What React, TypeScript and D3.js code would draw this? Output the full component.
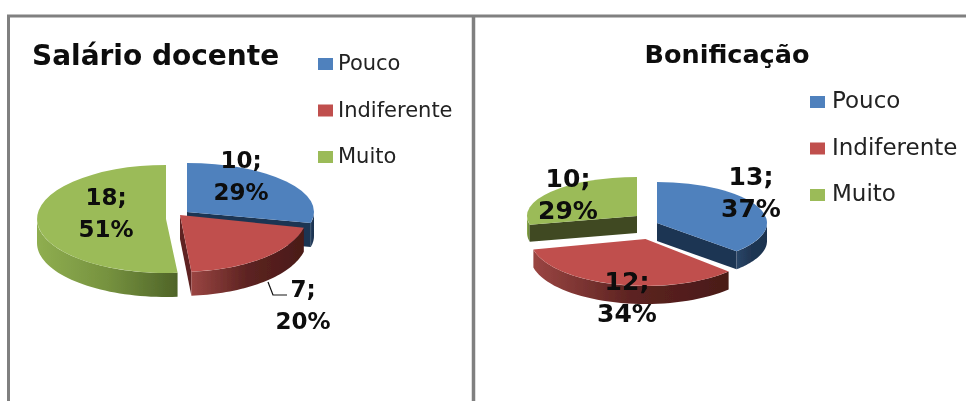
import React from "react";
import * as d3 from "d3";

const categories = ["Pouco", "Indiferente", "Muito"];
const salarioValues = [10, 7, 18];
const salarioPercents = [29, 20, 51];
const bonificacaoValues = [13, 12, 10];
const bonificacaoPercents = [37, 34, 29];

const topColors = ["#4f81bd", "#c0504d", "#9bbb59"];
const wallStops = [
  ["#2a4668", "#1f3552", "#1d3350"],
  ["#9a4542", "#5c2321", "#4a1a18"],
  ["#8fae50", "#76923f", "#4f6428"],
];
const faceColors = ["#1f3552", "#5e2220", "#3f4a20"];

type Geo = { cx: number; cy: number; rx: number; ry: number };
const salarioGeo: Geo[] = [
  { cx: 187, cy: 212, rx: 127, ry: 49 },
  { cx: 180, cy: 215, rx: 127, ry: 57 },
  { cx: 166, cy: 219, rx: 129, ry: 54 },
];
const bonificacaoGeo: Geo[] = [
  { cx: 657, cy: 223, rx: 110, ry: 41 },
  { cx: 645.5, cy: 239, rx: 115, ry: 47 },
  { cx: 637, cy: 216, rx: 110, ry: 39 },
];

const pie = d3.pie<number>().sort(null).value((d) => d);
const unitArc = d3.arc<any>().innerRadius(0).outerRadius(1);
const line = d3.line<[number, number]>();

const pt = (g: Geo, a: number, dz = 0): [number, number] => [
  g.cx + g.rx * Math.sin(a),
  g.cy - g.ry * Math.cos(a) + dz,
];

function outerWall(g: Geo, a0: number, a1: number, depth: number) {
  const s = Math.max(a0, Math.PI / 2);
  const e = Math.min(a1, (3 * Math.PI) / 2);
  if (e <= s) return null;
  const angles = d3.range(0, 41).map((i) => s + ((e - s) * i) / 40);
  const pts = [
    ...angles.map((a) => pt(g, a)),
    ...angles.slice().reverse().map((a) => pt(g, a, depth)),
  ];
  return line(pts) + "Z";
}

function face(g: Geo, a: number, depth: number) {
  return (
    line([
      [g.cx, g.cy],
      pt(g, a),
      pt(g, a, depth),
      [g.cx, g.cy + depth],
    ]) + "Z"
  );
}

function Pie3D({ id, values, geo, depths, order }: { id: string; values: number[]; geo: Geo[]; depths: number[]; order: number[] }) {
  const arcs = pie(values);
  return (
    <g>
      <defs>
        {wallStops.map((stops, i) => (
          <linearGradient key={i} id={`${id}-w${i}`} x1="0" x2="1" y1="0" y2="0">
            {stops.map((c, j) => (
              <stop key={j} offset={j / 2} stopColor={c} />
            ))}
          </linearGradient>
        ))}
      </defs>
      {order.map((i) => {
        const a = arcs[i];
        const g = geo[i];
        const d = depths[i];
        const wall = outerWall(g, a.startAngle, a.endAngle, d);
        const startVisible = -Math.cos(a.startAngle - Math.PI / 2) > 1e-6;
        const endVisible = -Math.cos(a.endAngle + Math.PI / 2) > 1e-6;
        return (
          <g key={i}>
            {startVisible && <path d={face(g, a.startAngle, d)} fill={faceColors[i]} />}
            {endVisible && <path d={face(g, a.endAngle, d)} fill={faceColors[i]} />}
            {wall && <path d={wall} fill={`url(#${id}-w${i})`} />}
            <path
              d={unitArc({ startAngle: a.startAngle, endAngle: a.endAngle }) as string}
              transform={`translate(${g.cx},${g.cy}) scale(${g.rx},${g.ry})`}
              fill={topColors[i]}
            />
          </g>
        );
      })}
    </g>
  );
}

function Legend({ x, y, step, tx, size }: { x: number; y: number; step: number; tx: number; size: number }) {
  return (
    <g>
      {categories.map((c, i) => (
        <g key={c}>
          <rect x={x} y={y + i * step} width={15} height={12} fill={topColors[i]} />
          <text x={tx} y={y + i * step + 12} fontSize={size} fill="#222" fontFamily="'DejaVu Sans'">
            {c}
          </text>
        </g>
      ))}
    </g>
  );
}

function Label({ x, y, value, pct, size }: { x: number; y: number; value: number; pct: number; size: number }) {
  return (
    <text x={x} textAnchor="middle" fontSize={size} fontWeight="bold" fill="#0a0a0a" fontFamily="'DejaVu Sans'">
      <tspan x={x} y={y}>{value};</tspan>
      <tspan x={x} y={y + 32}>{pct}%</tspan>
    </text>
  );
}

export default function App() {
  const grid = "#808080";
  return (
    <svg
      width={966}
      height={401}
      style={{ position: "absolute", left: 0, top: 0, background: "#fff" }}
    >
      <defs>
        <filter id="soft" x="-5%" y="-5%" width="110%" height="110%">
          <feGaussianBlur stdDeviation="0.55" />
        </filter>
      </defs>
      <g filter="url(#soft)">
        <path d="M8.5 401V16H966" fill="none" stroke={grid} strokeWidth={3} />
        <line x1={473.5} x2={473.5} y1={16} y2={401} stroke={grid} strokeWidth={3.5} />

        <text x={32} y={65} fontSize={28} fontWeight="bold" fill="#0a0a0a" fontFamily="'DejaVu Sans'">
          Salário docente
        </text>
        <Legend x={318} y={58} step={46.5} tx={338} size={21} />
        <Pie3D id="a" values={salarioValues} geo={salarioGeo} depths={[24, 24, 24]} order={[0, 1, 2]} />
        <Label x={241} y={168} value={salarioValues[0]} pct={salarioPercents[0]} size={23} />
        <Label x={303} y={297} value={salarioValues[1]} pct={salarioPercents[1]} size={23} />
        <Label x={106} y={205} value={salarioValues[2]} pct={salarioPercents[2]} size={23} />
        <path d="M268 282L273 295H287" fill="none" stroke="#111" strokeWidth={1.2} />

        <text x={727} y={63} textAnchor="middle" fontSize={25.5} fontWeight="bold" fill="#0a0a0a" fontFamily="'DejaVu Sans'">
          Bonificação
        </text>
        <Legend x={810} y={96} step={46.5} tx={832} size={23} />
        <Pie3D id="b" values={bonificacaoValues} geo={bonificacaoGeo} depths={[18, 18, 17]} order={[2, 0, 1]} />
        <Label x={751} y={185} value={bonificacaoValues[0]} pct={bonificacaoPercents[0]} size={25} />
        <Label x={627} y={290} value={bonificacaoValues[1]} pct={bonificacaoPercents[1]} size={25} />
        <Label x={568} y={187} value={bonificacaoValues[2]} pct={bonificacaoPercents[2]} size={25} />
      </g>
    </svg>
  );
}
